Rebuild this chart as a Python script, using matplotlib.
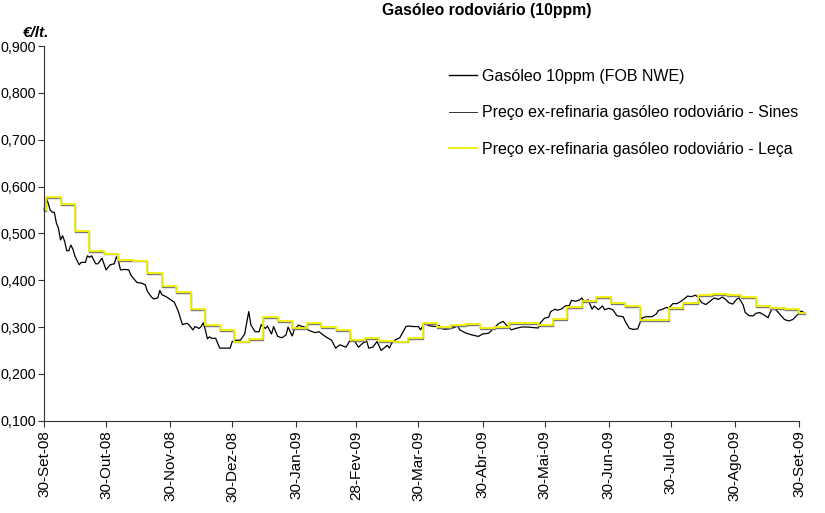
"""
Gasóleo rodoviário (10ppm): cotação FOB NWE vs preço ex-refinaria (Sines / Leça).
Saída: out.png (825x513)
"""
import datetime as dt

import matplotlib
matplotlib.use("Agg")
import matplotlib.pyplot as plt

plt.rcParams["font.family"] = ["Liberation Sans", "DejaVu Sans"]

START = dt.date(2008, 9, 30)
END = dt.date(2009, 9, 30)

# Gasóleo 10ppm (FOB NWE) — dias desde 30-Set-08, €/lt.
fob_day = [0, 1, 2, 3, 4, 5, 6, 7, 8, 9, 10, 11, 12, 13, 14, 15, 17, 18, 20, 21,
           22, 23, 25, 26, 27, 28, 29, 30, 32, 34, 35, 36, 37, 39, 41, 42, 44, 45, 47, 49,
           50, 52, 53, 55, 56, 57, 59, 61, 63, 64, 65, 66, 67, 69, 70, 72, 73, 75, 76, 77,
           78, 79, 80, 81, 83, 84, 85, 87, 88, 90, 91, 93, 95, 97, 99, 100, 102, 104, 105, 107,
           108, 110, 111, 113, 115, 117, 118, 120, 121, 123, 125, 126, 128, 131, 133, 135, 137, 139, 141, 143,
           146, 148, 150, 152, 154, 156, 157, 159, 161, 163, 166, 167, 168, 170, 172, 173, 175, 176, 179, 181,
           182, 184, 186, 189, 191, 192, 194, 197, 200, 201, 204, 207, 210, 212, 215, 218, 220, 222, 224, 226,
           228, 231, 234, 236, 239, 240, 242, 244, 245, 247, 248, 250, 252, 254, 255, 257, 259, 260, 261, 263,
           265, 266, 268, 270, 271, 273, 275, 277, 280, 281, 283, 285, 287, 289, 291, 294, 296, 297, 299, 301,
           302, 304, 306, 308, 310, 311, 313, 315, 316, 318, 320, 322, 324, 326, 328, 330, 331, 333, 335, 336,
           338, 339, 341, 343, 344, 346, 348, 350, 352, 354, 356, 358, 360, 362, 364, 366, 368]
fob_val = [0.549, 0.575, 0.565, 0.550, 0.545, 0.545, 0.522, 0.511, 0.486, 0.495, 0.483, 0.463, 0.463, 0.475, 0.466, 0.451, 0.433, 0.438, 0.438, 0.452,
           0.449, 0.452, 0.435, 0.435, 0.440, 0.447, 0.435, 0.422, 0.433, 0.435, 0.450, 0.440, 0.422, 0.423, 0.422, 0.411, 0.400, 0.395, 0.394, 0.390,
           0.376, 0.364, 0.360, 0.362, 0.378, 0.369, 0.365, 0.359, 0.353, 0.343, 0.333, 0.318, 0.305, 0.308, 0.305, 0.294, 0.301, 0.297, 0.301, 0.309,
           0.294, 0.275, 0.279, 0.276, 0.276, 0.265, 0.255, 0.255, 0.255, 0.255, 0.269, 0.272, 0.272, 0.285, 0.333, 0.305, 0.290, 0.290, 0.305, 0.297,
           0.302, 0.285, 0.301, 0.280, 0.277, 0.283, 0.300, 0.281, 0.294, 0.304, 0.301, 0.300, 0.293, 0.288, 0.290, 0.283, 0.277, 0.272, 0.255, 0.262,
           0.257, 0.272, 0.271, 0.257, 0.265, 0.270, 0.255, 0.257, 0.269, 0.250, 0.261, 0.255, 0.265, 0.273, 0.277, 0.285, 0.301, 0.302, 0.301, 0.301,
           0.294, 0.308, 0.303, 0.301, 0.303, 0.297, 0.295, 0.297, 0.302, 0.294, 0.287, 0.283, 0.280, 0.285, 0.287, 0.300, 0.308, 0.312, 0.302, 0.294,
           0.297, 0.300, 0.300, 0.299, 0.298, 0.309, 0.319, 0.321, 0.333, 0.338, 0.336, 0.338, 0.345, 0.346, 0.357, 0.355, 0.358, 0.362, 0.355, 0.358,
           0.338, 0.345, 0.337, 0.345, 0.337, 0.340, 0.337, 0.324, 0.322, 0.312, 0.297, 0.295, 0.296, 0.319, 0.322, 0.322, 0.328, 0.335, 0.338, 0.342,
           0.340, 0.350, 0.350, 0.355, 0.362, 0.366, 0.365, 0.368, 0.364, 0.352, 0.348, 0.355, 0.362, 0.359, 0.364, 0.357, 0.352, 0.349, 0.360, 0.362,
           0.347, 0.331, 0.324, 0.324, 0.329, 0.331, 0.326, 0.320, 0.340, 0.336, 0.326, 0.316, 0.313, 0.316, 0.325, 0.334, 0.330]

# preço ex-refinaria (muda semanalmente) — dia da mudança, €/lt.
price_day = [0, 1, 8, 15, 22, 29, 36, 43, 50, 57, 64, 71, 78, 85, 92, 99, 106, 113,
             120, 127, 134, 141, 148, 155, 162, 169, 176, 183, 190, 197, 204, 211, 218, 225,
             232, 239, 246, 253, 260, 267, 274, 281, 288, 295, 302, 309, 316, 323, 330, 337,
             344, 351, 358, 365, 368]
leca_val = [0.549, 0.577, 0.563, 0.505, 0.462, 0.457, 0.444, 0.442, 0.415, 0.387, 0.374, 0.338, 0.304, 0.294, 0.269, 0.274, 0.322, 0.312,
            0.297, 0.308, 0.301, 0.294, 0.272, 0.276, 0.270, 0.269, 0.276, 0.309, 0.300, 0.305, 0.307, 0.297, 0.300, 0.309,
            0.309, 0.305, 0.317, 0.342, 0.356, 0.365, 0.351, 0.345, 0.315, 0.315, 0.341, 0.351, 0.368, 0.371, 0.369, 0.364,
            0.345, 0.340, 0.338, 0.329, 0.329]
sines_val = [0.547, 0.575, 0.561, 0.503, 0.460, 0.455, 0.442, 0.440, 0.413, 0.385, 0.372, 0.336, 0.302, 0.292, 0.267, 0.272, 0.320, 0.310,
             0.295, 0.306, 0.299, 0.292, 0.270, 0.274, 0.268, 0.267, 0.274, 0.307, 0.298, 0.303, 0.305, 0.295, 0.298, 0.307,
             0.307, 0.303, 0.315, 0.340, 0.354, 0.363, 0.349, 0.343, 0.313, 0.313, 0.339, 0.349, 0.366, 0.369, 0.367, 0.362,
             0.343, 0.338, 0.336, 0.327, 0.327]

tick_dates = [dt.date(2008, 9, 30), dt.date(2008, 10, 30), dt.date(2008, 11, 30), dt.date(2008, 12, 30),
              dt.date(2009, 1, 30), dt.date(2009, 2, 28), dt.date(2009, 3, 30), dt.date(2009, 4, 30),
              dt.date(2009, 5, 30), dt.date(2009, 6, 30), dt.date(2009, 7, 30), dt.date(2009, 8, 30),
              dt.date(2009, 9, 30)]
tick_labels = ["30-Set-08", "30-Out-08", "30-Nov-08", "30-Dez-08", "30-Jan-09", "28-Fev-09",
               "30-Mar-09", "30-Abr-09", "30-Mai-09", "30-Jun-09", "30-Jul-09", "30-Ago-09",
               "30-Set-09"]
y_ticks = [0.1, 0.2, 0.3, 0.4, 0.5, 0.6, 0.7, 0.8, 0.9]


def to_dates(days):
    return [START + dt.timedelta(days=d) for d in days]


fig = plt.figure(figsize=(8.25, 5.13), dpi=100)
ax = fig.add_axes([0.0533, 0.1799, 0.9152, 0.7304])

ax.plot(to_dates(fob_day), fob_val, color="black", lw=0.9, clip_on=False,
        label="Gasóleo 10ppm (FOB NWE)")
ax.plot(to_dates(price_day), sines_val, color="#7a7a7a", lw=1.0, drawstyle="steps-post",
        clip_on=False, label="Preço ex-refinaria gasóleo rodoviário - Sines")
ax.plot(to_dates(price_day), leca_val, color="#f0f000", lw=1.3, drawstyle="steps-post",
        clip_on=False, label="Preço ex-refinaria gasóleo rodoviário - Leça")

ax.set_xlim(START, END)
ax.set_ylim(0.1, 0.9)
ax.set_yticks(y_ticks)
ax.set_yticklabels([f"{v:.3f}".replace(".", ",") for v in y_ticks], fontsize=10.3)
ax.set_xticks(tick_dates)
ax.set_xticklabels(tick_labels, rotation=90, fontsize=11)

for side in ("top", "right"):
    ax.spines[side].set_visible(False)
for side in ("left", "bottom"):
    ax.spines[side].set_color("#333333")
    ax.spines[side].set_linewidth(0.8)
ax.tick_params(direction="out", length=4, width=0.8, color="#333333", pad=3)
ax.tick_params(axis="y", pad=1.5)

leg = ax.legend(loc="upper left", bbox_to_anchor=(0.544, 0.866), bbox_transform=fig.transFigure,
                frameon=False, fontsize=11.5, handlelength=1.75, handletextpad=0.3,
                labelspacing=1.35, borderpad=0, borderaxespad=0)
leg.get_lines()[0].set_linewidth(1.0)
leg.get_lines()[1].set_color("#333333")
leg.get_lines()[1].set_linewidth(0.7)

fig.text(0.59, 0.98, "Gasóleo rodoviário (10ppm)", ha="center", va="center",
         fontsize=11.3, fontweight="bold")
fig.text(0.044, 0.936, "€/lt.", ha="center", va="center", fontsize=11,
         fontweight="bold", fontstyle="italic")

fig.savefig("out.png", dpi=100)
